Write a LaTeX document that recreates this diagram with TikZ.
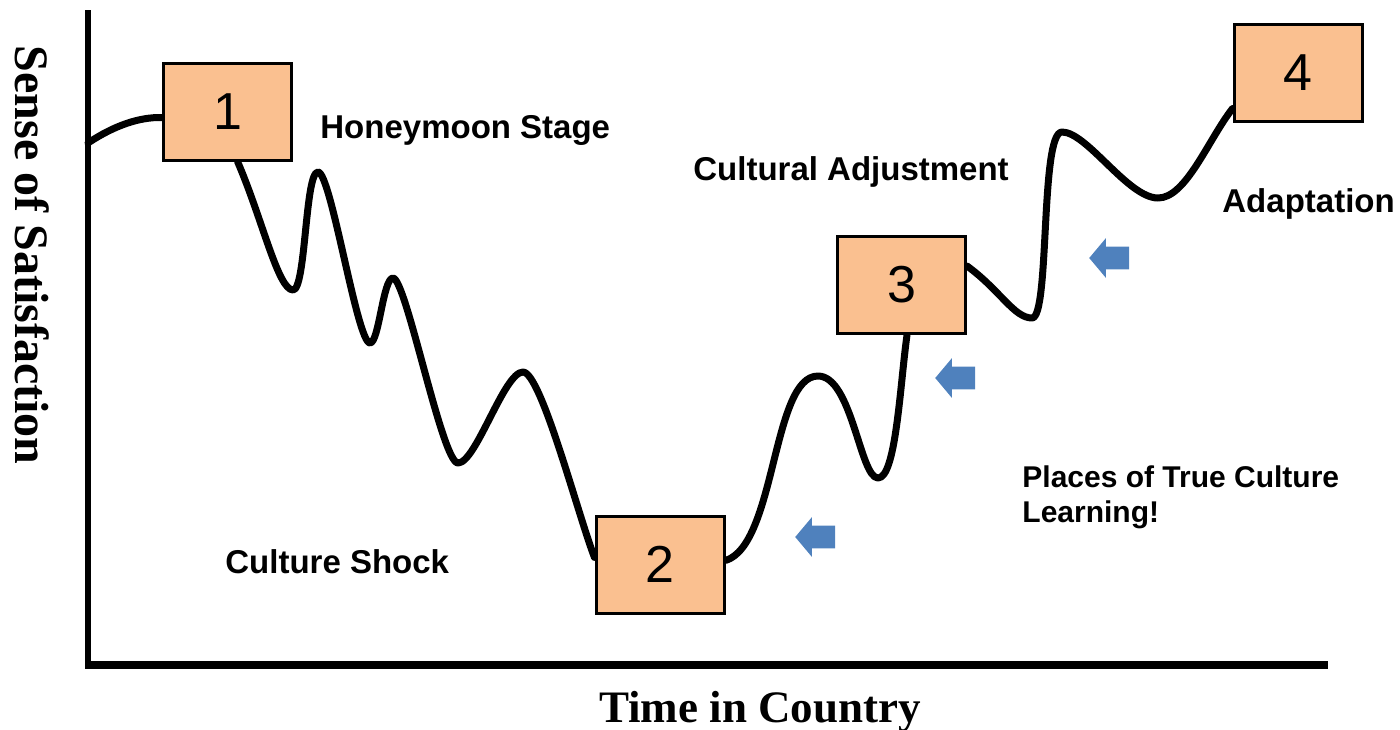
\documentclass[tikz,border=0pt]{standalone}
\usepackage{fontspec}
\setmainfont{Liberation Serif}
\setsansfont{Liberation Sans}
\usetikzlibrary{shapes.arrows,backgrounds}
\definecolor{boxpeach}{HTML}{FAC090}
\definecolor{arrowblue}{HTML}{4F81BD}

\begin{document}
\begin{tikzpicture}[x=0.5pt,y=-0.5pt,
  stagebox/.style={draw=black,line width=1.5pt,fill=boxpeach,minimum width=64pt,minimum height=48.5pt,inner sep=0pt,font=\sffamily\fontsize{26}{26}\selectfont},
  wave/.style={line width=3.5pt,line cap=round,line join=round},
  stagelabel/.style={anchor=base west,inner sep=0pt,font=\sffamily\bfseries\fontsize{16.5}{16.5}\selectfont},
  leftarrow/.style={single arrow,shape border rotate=180,fill=arrowblue,inner xsep=0pt,inner ysep=5.5pt,minimum height=20pt,single arrow head extend=4.25pt,single arrow tip angle=100}]
\useasboundingbox (0,0) rectangle (1400,729);
% axes:
\coordinate (ytop) at (88,10);
\coordinate (origin) at (88,665);
\coordinate (xend) at (1328,665);
\draw[line width=3pt] (ytop) -- (origin);
\draw[line width=4pt] ([xshift=-1.5pt]origin) -- (xend);
\node[font=\rmfamily\bfseries\fontsize{24}{24}\selectfont,inner sep=0pt,rotate=-90] (ylab) at (32,255) {Sense of Satisfaction};
\node[font=\rmfamily\bfseries\fontsize{22.5}{22.5}\selectfont,inner sep=0pt,anchor=base] (xlab) at (760,722) {Time in Country};
% stages:
\node[stagebox] (b1) at (227.5,111.5) {1};
\node[stagebox] (b2) at (660,564.5) {2};
\node[stagebox] (b3) at (901.5,285) {3};
\node[stagebox] (b4) at (1298,72.5) {4};
\coordinate (start) at (88,143);
% the ups and downs:
\begin{pgfonlayer}{background}
\draw[wave] (start) .. controls (115,125) and (140,117) .. ([yshift=-3pt]b1.west);
\draw[wave] ([xshift=5pt]b1.south) .. controls (262,218) and (278,290) .. (293,290)
  .. controls (306,290) and (305,172) .. (318,172)
  .. controls (331,172) and (357,343) .. (370,343)
  .. controls (379,343) and (383,278) .. (393,278)
  .. controls (406,278) and (442,463) .. (458,463)
  .. controls (476,463) and (504,372) .. (523,372)
  .. controls (541,372) and (578,515) .. ([yshift=3.5pt]b2.west);
\draw[wave] ([yshift=2pt]b2.east) .. controls (776,545) and (772,376) .. (818,376)
  .. controls (852,376) and (860,478) .. (878,478)
  .. controls (896,478) and (900,385) .. ([xshift=2.75pt]b3.south);
\draw[wave] ([yshift=9.5pt]b3.east) .. controls (1000,290) and (1014,318) .. (1032,318)
  .. controls (1050,318) and (1040,132) .. (1062,132)
  .. controls (1087,132) and (1128,198) .. (1158,198)
  .. controls (1186,198) and (1208,140) .. ([yshift=7pt]b4.south west);
\end{pgfonlayer}
% labels:
\node[stagelabel] (honey) at (320,138) {Honeymoon Stage};
\node[stagelabel] (adjust) at (693,180) {Cultural Adjustment};
\node[stagelabel] (adapt) at (1222,212) {Adaptation};
\node[stagelabel] (shock) at (225,573) {Culture Shock};
\node[stagelabel,anchor=north west,align=left,font=\sffamily\bfseries\fontsize{15}{17.5}\selectfont] (places) at (1022,465) {Places of True Culture\\Learning!};
% arrows:
\node[leftarrow] (a1) at (820,537) {};
\node[leftarrow] (a2) at (960,378) {};
\node[leftarrow] (a3) at (1114,258) {};
\end{tikzpicture}
\end{document}
